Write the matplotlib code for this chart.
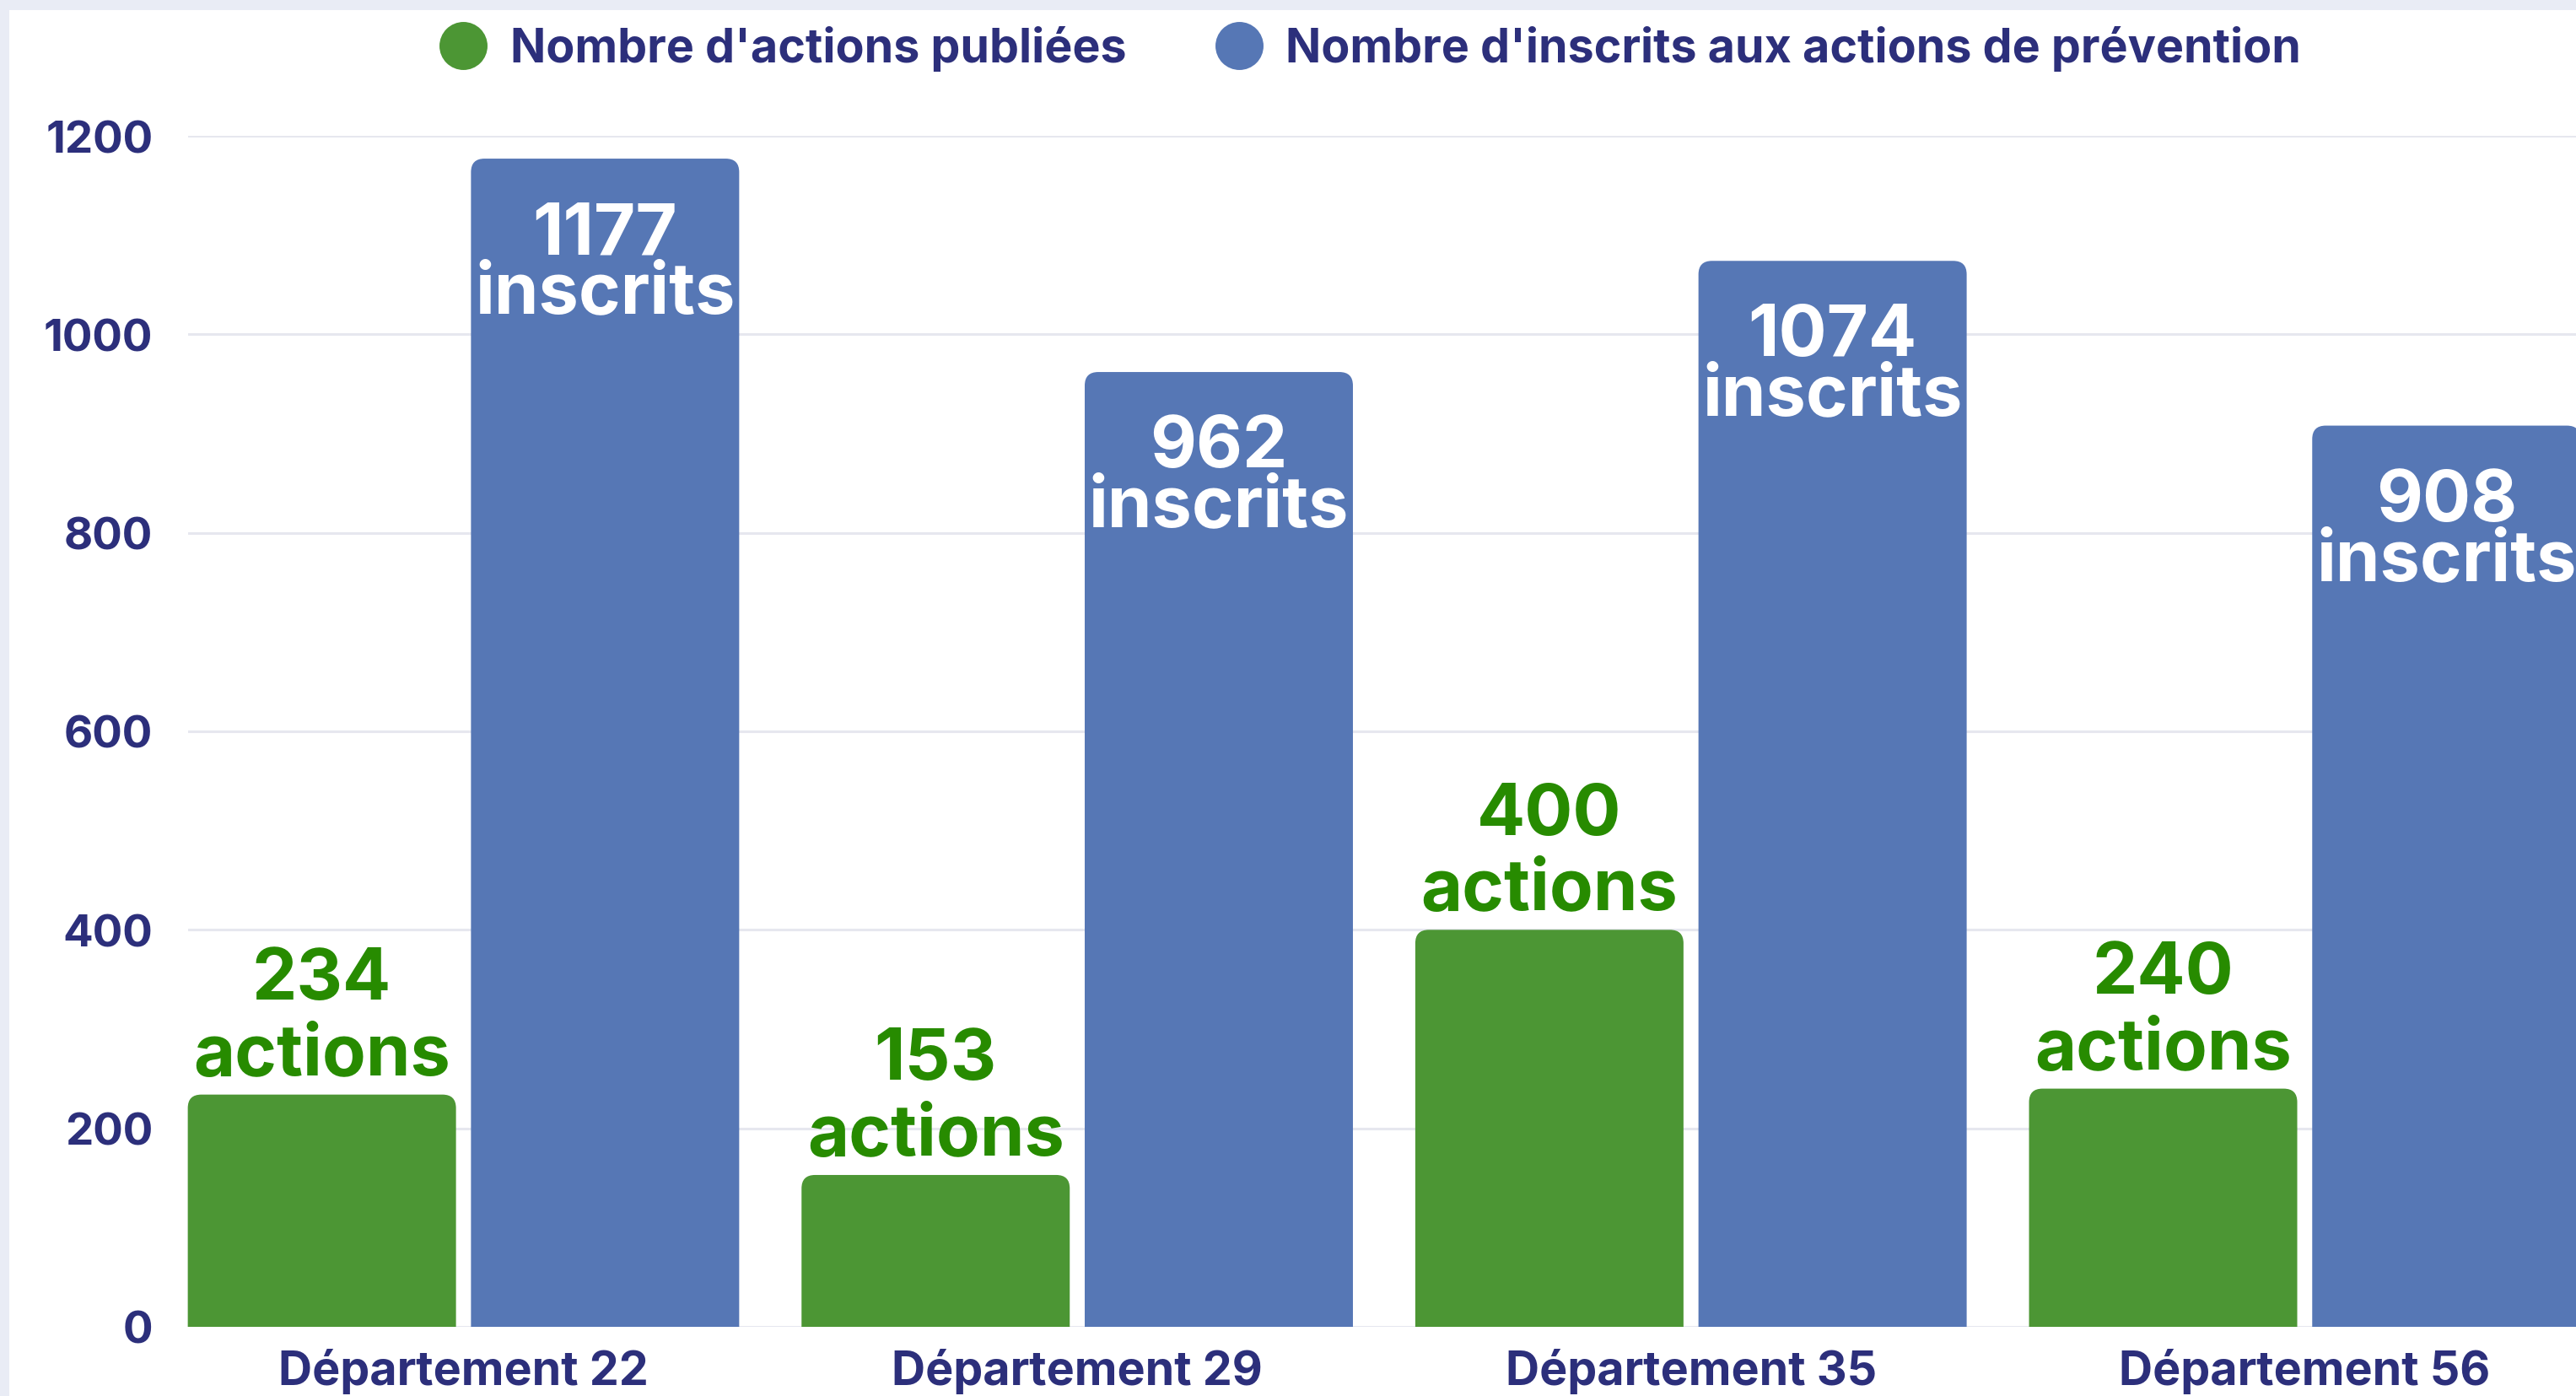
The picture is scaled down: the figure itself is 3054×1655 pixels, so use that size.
import matplotlib
matplotlib.use("Agg")
import matplotlib.pyplot as plt
from matplotlib.path import Path
from matplotlib.patches import PathPatch, Rectangle
from matplotlib.lines import Line2D
import numpy as np

# ── Data ────────────────────────────────────────────────────
departements = ["Département 22", "Département 29", "Département 35", "Département 56"]
actions = [234, 153, 400, 240]
inscrits = [1177, 962, 1074, 908]
yticks = [0, 200, 400, 600, 800, 1000, 1200]
legend_labels = ["Nombre d'actions publiées", "Nombre d'inscrits aux actions de prévention"]

# ── Colours ─────────────────────────────────────────────────
BORDER = "#e9ecf5"
GREEN = "#4c9634"
BLUE = "#5677b5"
NAVY = "#2c2f7b"
LABEL_GREEN = "#278b00"
GRID = "#e6e7ef"

plt.rcParams["font.family"] = ["Inter", "DejaVu Sans"]

W, H, DPI = 3054, 1656, 100
fig = plt.figure(figsize=(W / DPI, H / DPI), dpi=DPI)
fig.patch.set_facecolor(BORDER)
fig.patches.append(Rectangle((11 / W, 0), 1, (H - 13) / H, transform=fig.transFigure,
                             facecolor="white", edgecolor="none", zorder=-10))

ax_left, ax_bottom = 223 / W, (H - 1574) / H
ax_top = (H - 162) / H
ax = fig.add_axes([ax_left, ax_bottom, 1 - ax_left, ax_top - ax_bottom])
ax.set_facecolor("none")

x = np.arange(len(departements))
bw = 0.437
off = 0.2307
xlim = (-0.4487, 3.442)
ylim = (0, 1200)
ax.set_xlim(*xlim)
ax.set_ylim(*ylim)

bars_a = ax.bar(x - off, actions, bw, color=GREEN)
bars_i = ax.bar(x + off, inscrits, bw, color=BLUE)

# rounded top corners
ax_w_px = (1 - ax_left) * W
ax_h_px = (ax_top - ax_bottom) * H
r_px = 16
rx = r_px * (xlim[1] - xlim[0]) / ax_w_px
ry = r_px * (ylim[1] - ylim[0]) / ax_h_px
for b in list(bars_a) + list(bars_i):
    x0, w, h = b.get_x(), b.get_width(), b.get_height()
    x1 = x0 + w
    verts = [(x0, 0), (x0, h - ry), (x0, h), (x0 + rx, h), (x1 - rx, h),
             (x1, h), (x1, h - ry), (x1, 0), (x0, 0)]
    codes = [Path.MOVETO, Path.LINETO, Path.CURVE3, Path.CURVE3, Path.LINETO,
             Path.CURVE3, Path.CURVE3, Path.LINETO, Path.CLOSEPOLY]
    ax.add_patch(PathPatch(Path(verts, codes), facecolor=b.get_facecolor(),
                           edgecolor="none", zorder=3, clip_on=False))
    b.set_visible(False)

# value labels
for xi, v in zip(x - off, actions):
    ax.annotate(f"{v}\nactions", (xi, v), xytext=(0, 5), textcoords="offset points",
                ha="center", va="bottom", fontsize=61, fontweight="bold",
                color=LABEL_GREEN, linespacing=1.17, zorder=5)
for xi, v in zip(x + off, inscrits):
    ax.annotate(f"{v}\ninscrits", (xi, v), xytext=(0, -36), textcoords="offset points",
                ha="center", va="top", fontsize=61, fontweight="bold",
                color="white", linespacing=0.86, zorder=5, annotation_clip=False)

# axes styling
ax.set_yticks(yticks)
ax.set_xticks(x)
ax.set_xticklabels(departements)
ax.tick_params(axis="both", length=0, colors=NAVY)
ax.tick_params(axis="y", pad=30, labelsize=38)
ax.tick_params(axis="x", pad=18, labelsize=40)
for lbl in ax.get_xticklabels() + ax.get_yticklabels():
    lbl.set_fontweight("bold")
for s in ax.spines.values():
    s.set_visible(False)
ax.grid(axis="y", color=GRID, linewidth=2.2, zorder=0)
ax.set_axisbelow(True)

# legend
handles = [Line2D([], [], marker="o", linestyle="none", markersize=41,
                  markerfacecolor=c, markeredgecolor="none") for c in (GREEN, BLUE)]
leg = fig.legend(handles, legend_labels, loc="center", bbox_to_anchor=(0.532, 0.965),
                 ncol=2, frameon=False, fontsize=40, handlelength=1.0,
                 handletextpad=0.5, columnspacing=1.9, borderaxespad=0)
for t in leg.get_texts():
    t.set_color(NAVY)
    t.set_fontweight("bold")

fig.savefig("out.png", dpi=DPI, facecolor=fig.get_facecolor())
